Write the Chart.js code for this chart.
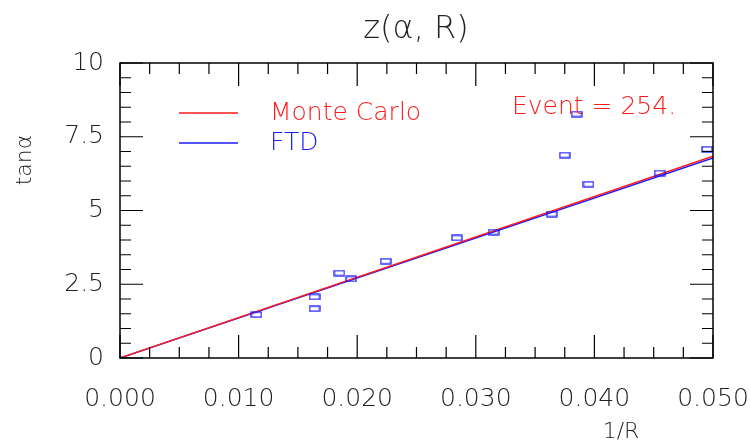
<!DOCTYPE html>
<html>
<head>
<meta charset="utf-8">
<script src="https://cdn.jsdelivr.net/npm/chart.js@4"></script>
<style>
  html, body { margin: 0; padding: 0; background: #fff; }
  #wrap { width: 751px; height: 448px; }
</style>
</head>
<body>
<div id="wrap"><canvas id="myChart" width="751" height="448"></canvas></div>
<script>
// fitted lines (1/R -> tan alpha)
const fitX = [0, 0.05];
const mcY = [0, 6.84];
const ftdY = [0, 6.78];

// measured hits
const hitX = [0.0115, 0.0164, 0.0164, 0.0185, 0.0195, 0.0224, 0.0284, 0.0315, 0.0364, 0.0375, 0.0385, 0.0395, 0.0455, 0.0495];
const hitY = [1.47, 2.07, 1.67, 2.88, 2.68, 3.28, 4.07, 4.27, 4.88, 6.88, 8.27, 5.89, 6.27, 7.08];

const xTicks = [0, 0.01, 0.02, 0.03, 0.04, 0.05];
const yTicks = [0, 2.5, 5, 7.5, 10];

const seriesNames = ["Monte Carlo", "FTD"];
const eventText = "Event = 254.";

const FONT = "'DejaVu Sans', sans-serif";

function pts(xs, ys) {
  return xs.map((x, i) => ({x: x, y: ys[i]}));
}

// little open rectangle used as the marker
const box = document.createElement("canvas");
box.width = 12; box.height = 7;
(function () {
  const c = box.getContext("2d");
  c.strokeStyle = "#1a1aff";
  c.lineWidth = 1.3;
  c.strokeRect(1, 1, 10, 5);
})();

const frame = {
  id: "frame",
  afterDraw(chart) {
    const ctx = chart.ctx;
    const a = chart.chartArea;
    const xs = chart.scales.x, ys = chart.scales.y;
    ctx.save();
    ctx.strokeStyle = "#000";
    ctx.lineWidth = 1.5;
    ctx.strokeRect(a.left, a.top, a.right - a.left, a.bottom - a.top);

    // x ticks, bottom and top, pointing in
    ctx.lineWidth = 1.2;
    for (let i = 0; i <= 20; i++) {
      const v = i * 0.0025;
      const px = xs.getPixelForValue(v);
      const len = i % 4 === 0 ? 23 : 11;
      ctx.beginPath();
      ctx.moveTo(px, a.bottom); ctx.lineTo(px, a.bottom - len);
      ctx.moveTo(px, a.top); ctx.lineTo(px, a.top + len);
      ctx.stroke();
    }
    // y ticks, left and right
    for (let i = 0; i <= 20; i++) {
      const v = i * 0.5;
      const py = ys.getPixelForValue(v);
      const len = i % 5 === 0 ? 23 : 11;
      ctx.beginPath();
      ctx.moveTo(a.left, py); ctx.lineTo(a.left + len, py);
      ctx.moveTo(a.right, py); ctx.lineTo(a.right - len, py);
      ctx.stroke();
    }

    // legend (datasets 1 and 2 are the fits)
    const ds = chart.data.datasets;
    const lx = a.left + 59;
    [0, 1].forEach(k => {
      const ly = a.top + 50 + k * 30;
      const col = ds[k + 1].borderColor;
      ctx.strokeStyle = col;
      ctx.lineWidth = 1.3;
      ctx.beginPath();
      ctx.moveTo(lx, ly); ctx.lineTo(lx + 59, ly);
      ctx.stroke();
      ctx.fillStyle = col;
      ctx.font = "200 25px " + FONT;
      ctx.textBaseline = "middle";
      ctx.textAlign = "left";
      ctx.fillText(seriesNames[k], lx + 91, ly);
    });

    ctx.fillStyle = "#ff1a1a";
    ctx.font = "200 25px " + FONT;
    ctx.textAlign = "left";
    ctx.textBaseline = "middle";
    ctx.fillText(eventText, 512, 107);

    // title and axis titles
    ctx.fillStyle = "#222";
    ctx.font = "200 32px " + FONT;
    ctx.textAlign = "center";
    ctx.fillText("z(\u03b1, R)", 416, 30);

    ctx.font = "200 22px " + FONT;
    ctx.fillText("1/R", 621, 432);

    ctx.translate(25, 160);
    ctx.rotate(-Math.PI / 2);
    ctx.fillText("tan\u03b1", 0, 0);
    ctx.restore();
  }
};

function drawChart(id) {
  const myChart = new Chart(document.getElementById(id), {
    type: "scatter",
    data: {
      datasets: [
        {
          label: "hits",
          data: pts(hitX, hitY),
          pointStyle: box,
          showLine: false,
          borderColor: "#1a1aff"
        },
        {
          label: seriesNames[0],
          data: pts(fitX, mcY),
          showLine: true,
          borderColor: "#ff1a1a",
          borderWidth: 1.4,
          pointRadius: 0
        },
        {
          label: seriesNames[1],
          data: pts(fitX, ftdY),
          showLine: true,
          borderColor: "#1a1aff",
          borderWidth: 1.4,
          pointRadius: 0
        }
      ]
    },
    options: {
      responsive: false,
      animation: false,
      layout: { padding: { left: 0, top: 63, right: 38, bottom: 0 } },
      plugins: {
        legend: { display: false },
        tooltip: { enabled: false }
      },
      scales: {
        x: {
          type: "linear",
          min: 0, max: 0.05,
          afterFit: s => { s.height = 90; s.paddingLeft = 0; s.paddingRight = 0; },
          afterBuildTicks: s => { s.ticks = xTicks.map(v => ({value: v})); },
          grid: { display: false, drawTicks: false },
          border: { display: false },
          ticks: {
            padding: 26,
            color: "#222",
            font: { family: FONT, size: 25, weight: "200" },
            maxRotation: 0,
            callback: v => Number(v).toFixed(3)
          }
        },
        y: {
          type: "linear",
          min: 0, max: 10,
          afterFit: s => { s.width = 120; s.paddingTop = 0; s.paddingBottom = 0; },
          afterBuildTicks: s => { s.ticks = yTicks.map(v => ({value: v})); },
          grid: { display: false, drawTicks: false },
          border: { display: false },
          ticks: {
            padding: 16,
            color: "#222",
            font: { family: FONT, size: 25, weight: "200" },
            callback: v => String(v)
          }
        }
      }
    },
    plugins: [frame]
  });
}

window.onload = function () {
  drawChart("myChart");
};
</script>
</body>
</html>
